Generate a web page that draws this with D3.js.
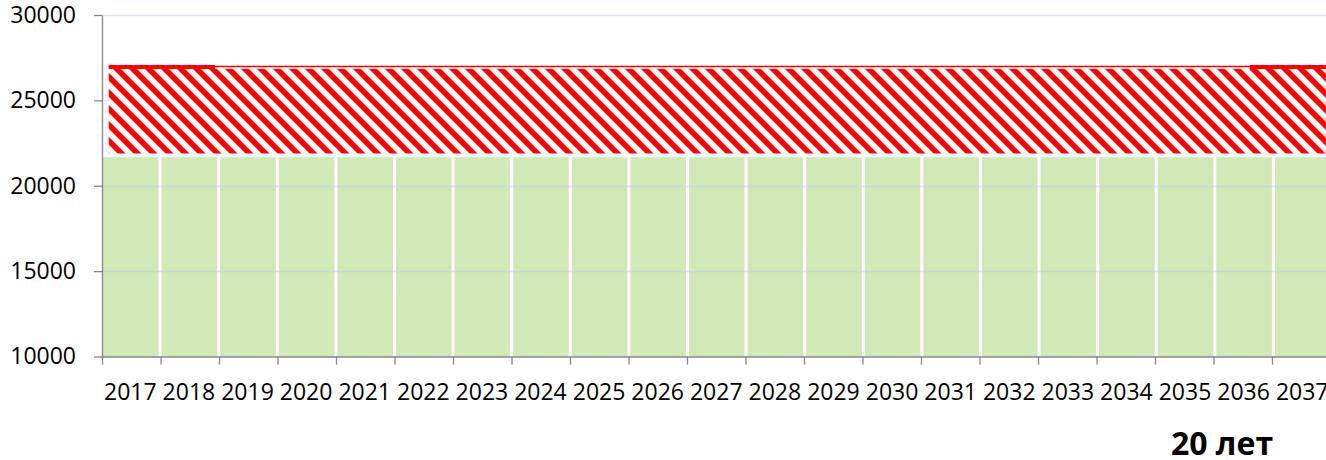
<!DOCTYPE html>
<html>
<head>
<meta charset="utf-8">
<script src="https://cdn.jsdelivr.net/npm/d3@7"></script>
<style>
  body { margin: 0; background: #fff; overflow: hidden; }
  text { font-family: "Open Sans", sans-serif; fill: #000; }
</style>
</head>
<body>
<div id="chart"></div>
<script>
// data
var years = d3.range(2017, 2038);
var baseValues = [21670, 21670, 21670, 21670, 21670, 21670, 21670, 21670, 21670, 21670, 21670,
  21670, 21670, 21670, 21670, 21670, 21670, 21670, 21670, 21670, 21670];
var hatchBand = { from: 2017.115, to: 2038, low: 21890, high: 26850 };
var thinLine = { from: 2017.115, to: 2038, value: 26990 };
var thickLines = [
  { from: 2017.115, to: 2018.93, value: 26950 },
  { from: 2036.62, to: 2038, value: 26950 }
];
var yTicks = [10000, 15000, 20000, 25000, 30000];
var periodLabel = '20 лет';

var width = 1326, height = 460;
var plotLeft = 102, plotRight = 1330.5, plotTop = 15, plotBottom = 356.5;

var svg = d3.select('#chart').append('svg')
  .attr('width', width)
  .attr('height', height);

var y = d3.scaleLinear().domain([10000, 30000]).range([plotBottom, plotTop]);
var x = d3.scaleBand().domain(years).range([plotLeft, plotRight]).paddingInner(0.034).paddingOuter(0);
// continuous year scale for band edges
var xLin = d3.scaleLinear().domain([2017, 2038]).range([plotLeft, plotRight]);

// hatch pattern
var defs = svg.append('defs');
defs.append('pattern')
  .attr('id', 'hatch')
  .attr('patternUnits', 'userSpaceOnUse')
  .attr('width', 16)
  .attr('height', 16)
  .append('path')
  .attr('d', 'M-4,-4 L20,20 M-4,12 L4,20 M12,-4 L20,4')
  .attr('stroke', '#ff0000')
  .attr('stroke-width', 5.6);

// green columns
svg.append('g').selectAll('rect')
  .data(years)
  .enter()
  .append('rect')
  .attr('x', function (d) { return x(d) + (d === 2017 ? 0 : 1); })
  .attr('width', function (d) { return x.bandwidth() - (d === 2017 ? 0 : 1); })
  .attr('y', function (d, i) { return y(baseValues[i]); })
  .attr('height', function (d, i) { return y(10000) - y(baseValues[i]); })
  .attr('fill', '#d1e9b7');

// gridlines
svg.append('g').selectAll('line')
  .data(yTicks.slice(1))
  .enter()
  .append('line')
  .attr('x1', plotLeft)
  .attr('x2', plotRight)
  .attr('y1', function (d) { return Math.round(y(d)) + 0.5; })
  .attr('y2', function (d) { return Math.round(y(d)) + 0.5; })
  .attr('stroke', '#b9cde5')
  .attr('stroke-opacity', 0.5)
  .attr('stroke-width', 1.5);

// hatched band
svg.append('rect')
  .attr('x', xLin(hatchBand.from))
  .attr('width', xLin(hatchBand.to) - xLin(hatchBand.from))
  .attr('y', y(hatchBand.high))
  .attr('height', y(hatchBand.low) - y(hatchBand.high))
  .attr('fill', '#fff');
svg.append('rect')
  .attr('x', xLin(hatchBand.from))
  .attr('width', xLin(hatchBand.to) - xLin(hatchBand.from))
  .attr('y', y(hatchBand.high))
  .attr('height', y(hatchBand.low) - y(hatchBand.high))
  .attr('fill', 'url(#hatch)');

// red top lines
svg.append('line')
  .attr('x1', xLin(thinLine.from))
  .attr('x2', xLin(thinLine.to))
  .attr('y1', y(thinLine.value))
  .attr('y2', y(thinLine.value))
  .attr('stroke', '#ff0000')
  .attr('stroke-width', 1.5);

svg.append('g').selectAll('line')
  .data(thickLines)
  .enter()
  .append('line')
  .attr('x1', function (d) { return xLin(d.from); })
  .attr('x2', function (d) { return xLin(d.to); })
  .attr('y1', function (d) { return y(d.value); })
  .attr('y2', function (d) { return y(d.value); })
  .attr('stroke', '#ff0000')
  .attr('stroke-width', 4);

// y axis
var yAxis = svg.append('g')
  .attr('transform', 'translate(' + plotLeft + ',0)')
  .call(d3.axisLeft(y).tickValues(yTicks).tickSize(8).tickSizeOuter(0).tickPadding(18).tickFormat(d3.format('d')));
yAxis.selectAll('text').style('font-size', '23px').attr('font-family', null);
yAxis.selectAll('line, path').attr('stroke', '#868686').attr('stroke-width', 1.3);

// x axis: labels centered in bands
var xAxis = svg.append('g')
  .attr('transform', 'translate(0,' + plotBottom + ')')
  .call(d3.axisBottom(x).tickSize(0).tickPadding(27));
xAxis.select('.domain').remove();
xAxis.selectAll('text').style('font-size', '23px').attr('font-family', null);

// x axis line and boundary ticks
var xEdge = svg.append('g')
  .attr('transform', 'translate(0,' + plotBottom + ')')
  .call(d3.axisBottom(xLin).tickValues(d3.range(2017, 2038)).tickSize(8).tickSizeOuter(0).tickFormat(''));
xEdge.selectAll('line, path').attr('stroke', '#868686').attr('stroke-width', 1.3);

// period label
svg.append('text')
  .attr('x', 1222)
  .attr('y', 455)
  .attr('text-anchor', 'middle')
  .style('font-size', '32px')
  .style('font-weight', 'bold')
  .text(periodLabel);
</script>
</body>
</html>
